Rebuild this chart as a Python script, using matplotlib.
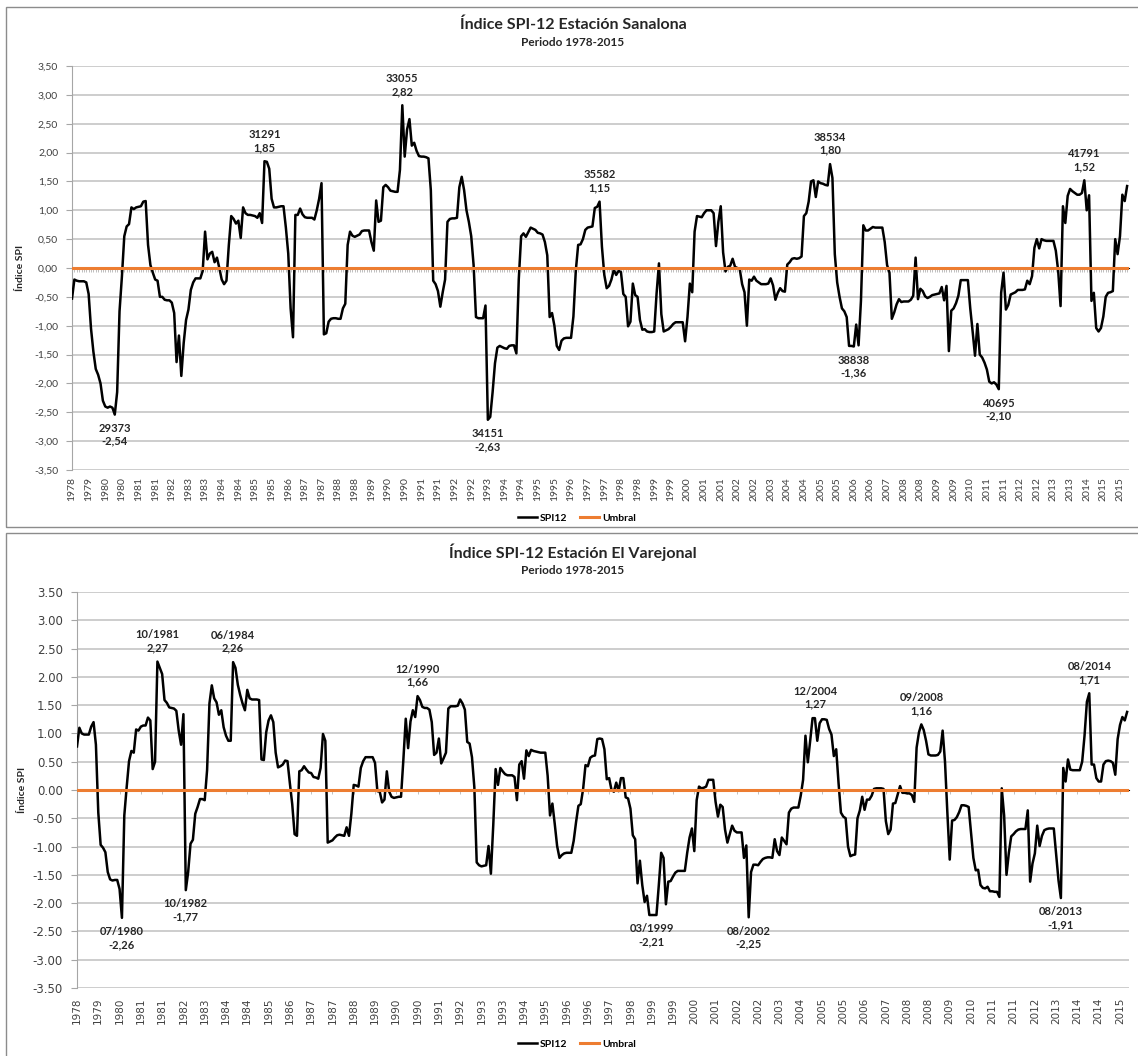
import numpy as np
import pandas as pd
import matplotlib
matplotlib.use('Agg')
import matplotlib.pyplot as plt
from matplotlib.patches import Rectangle

plt.rcParams['font.family'] = ['Lato', 'DejaVu Sans']

# SPI-12 mensual: primer valor dic 1978, luego una fila por año (1979-2015)
sanalona = [-0.53,
    -0.20, -0.22, -0.23, -0.23, -0.23, -0.25, -0.45, -1.05, -1.45, -1.75, -1.85, -2.00,
    -2.30, -2.40, -2.42, -2.40, -2.42, -2.54, -2.15, -0.75, -0.15, 0.55, 0.72, 0.76,
    1.05, 1.02, 1.05, 1.06, 1.07, 1.15, 1.16, 0.40, 0.05, -0.08, -0.20, -0.22,
    -0.50, -0.50, -0.55, -0.56, -0.56, -0.60, -0.78, -1.63, -1.17, -1.87, -1.30, -0.90,
    -0.72, -0.38, -0.25, -0.18, -0.18, -0.18, -0.05, 0.63, 0.15, 0.25, 0.28, 0.10,
    0.18, 0.00, -0.20, -0.28, -0.22, 0.40, 0.90, 0.85, 0.77, 0.82, 0.52, 1.05,
    0.95, 0.92, 0.92, 0.91, 0.90, 0.87, 0.95, 0.78, 1.85, 1.84, 1.72, 1.20,
    1.05, 1.05, 1.06, 1.07, 1.07, 0.70, 0.25, -0.70, -1.20, 0.92, 0.92, 1.03,
    0.93, 0.88, 0.87, 0.87, 0.87, 0.84, 1.00, 1.20, 1.47, -1.15, -1.13, -0.93,
    -0.88, -0.87, -0.87, -0.88, -0.88, -0.70, -0.62, 0.40, 0.63, 0.56, 0.54, 0.56,
    0.58, 0.64, 0.65, 0.65, 0.65, 0.45, 0.30, 1.17, 0.80, 0.82, 1.40, 1.44,
    1.40, 1.34, 1.33, 1.32, 1.32, 1.70, 2.82, 1.93, 2.40, 2.58, 2.12, 2.17,
    2.03, 1.94, 1.93, 1.93, 1.92, 1.90, 1.35, -0.22, -0.28, -0.40, -0.67, -0.42,
    -0.20, 0.80, 0.85, 0.86, 0.86, 0.87, 1.40, 1.58, 1.35, 1.00, 0.80, 0.55,
    0.05, -0.85, -0.87, -0.87, -0.87, -0.65, -2.63, -2.58, -2.15, -1.65, -1.38, -1.35,
    -1.37, -1.39, -1.40, -1.35, -1.34, -1.34, -1.48, -0.20, 0.55, 0.60, 0.54, 0.62,
    0.70, 0.68, 0.66, 0.61, 0.60, 0.58, 0.45, 0.22, -0.85, -0.78, -1.00, -1.35,
    -1.42, -1.26, -1.22, -1.21, -1.21, -1.21, -0.84, -0.05, 0.40, 0.41, 0.50, 0.66,
    0.70, 0.71, 0.72, 1.04, 1.06, 1.15, 0.37, -0.12, -0.35, -0.31, -0.20, -0.03,
    -0.12, -0.05, -0.07, -0.45, -0.50, -1.01, -0.93, -0.27, -0.47, -0.50, -0.90, -1.07,
    -1.06, -1.10, -1.11, -1.11, -1.10, -0.44, 0.08, -0.80, -1.10, -1.08, -1.06, -1.02,
    -0.97, -0.94, -0.94, -0.94, -0.94, -1.27, -0.85, -0.27, -0.42, 0.63, 0.90, 0.89,
    0.88, 0.95, 1.00, 1.00, 1.00, 0.95, 0.38, 0.80, 1.07, 0.27, -0.06, 0.02,
    0.04, 0.16, 0.02, 0.00, -0.02, -0.28, -0.42, -1.00, -0.20, -0.22, -0.15, -0.22,
    -0.25, -0.28, -0.28, -0.28, -0.27, -0.18, -0.30, -0.55, -0.43, -0.35, -0.40, -0.41,
    0.06, 0.10, 0.16, 0.17, 0.16, 0.17, 0.20, 0.90, 0.95, 1.15, 1.50, 1.52,
    1.23, 1.50, 1.47, 1.46, 1.44, 1.43, 1.80, 1.56, 0.24, -0.25, -0.50, -0.70,
    -0.75, -0.85, -1.35, -1.35, -1.36, -0.98, -1.34, -0.57, 0.74, 0.65, 0.65, 0.68,
    0.71, 0.70, 0.70, 0.70, 0.70, 0.45, 0.05, -0.08, -0.88, -0.77, -0.63, -0.54,
    -0.59, -0.58, -0.58, -0.58, -0.55, -0.48, 0.18, -0.54, -0.36, -0.40, -0.49, -0.52,
    -0.50, -0.47, -0.46, -0.45, -0.44, -0.33, -0.56, -0.31, -1.44, -0.74, -0.70, -0.61,
    -0.48, -0.21, -0.21, -0.21, -0.21, -0.70, -1.10, -1.52, -0.97, -1.50, -1.55, -1.64,
    -1.76, -1.97, -2.00, -1.98, -2.02, -2.10, -0.43, -0.08, -0.72, -0.64, -0.46, -0.44,
    -0.42, -0.38, -0.38, -0.38, -0.37, -0.22, -0.28, -0.14, 0.35, 0.50, 0.34, 0.50,
    0.48, 0.47, 0.47, 0.47, 0.47, 0.30, -0.05, -0.66, 1.07, 0.78, 1.25, 1.37,
    1.33, 1.30, 1.27, 1.27, 1.30, 1.52, 1.00, 1.26, -0.57, -0.43, -1.04, -1.10,
    -1.04, -0.84, -0.50, -0.43, -0.42, -0.40, 0.50, 0.24, 0.55, 1.27, 1.16, 1.42]

varejonal = [0.77,
    1.10, 1.00, 0.98, 0.98, 0.98, 1.12, 1.20, 0.80, -0.40, -0.97, -1.02, -1.10,
    -1.45, -1.58, -1.60, -1.59, -1.59, -1.75, -2.26, -0.45, 0.05, 0.51, 0.69, 0.66,
    1.07, 1.05, 1.12, 1.14, 1.14, 1.28, 1.23, 0.37, 0.50, 2.27, 2.16, 2.05,
    1.59, 1.54, 1.46, 1.45, 1.44, 1.40, 1.05, 0.80, 1.34, -1.77, -1.45, -0.95,
    -0.88, -0.42, -0.30, -0.16, -0.16, -0.18, 0.35, 1.53, 1.85, 1.62, 1.55, 1.33,
    1.41, 1.11, 0.96, 0.87, 0.87, 2.26, 2.16, 1.86, 1.68, 1.53, 1.41, 1.77,
    1.62, 1.60, 1.60, 1.60, 1.59, 0.54, 0.53, 1.02, 1.23, 1.32, 1.20, 0.66,
    0.40, 0.42, 0.45, 0.52, 0.51, 0.12, -0.25, -0.78, -0.81, 0.33, 0.35, 0.42,
    0.36, 0.31, 0.30, 0.23, 0.22, 0.20, 0.39, 0.99, 0.87, -0.93, -0.91, -0.89,
    -0.84, -0.80, -0.79, -0.80, -0.81, -0.66, -0.81, -0.42, 0.09, 0.08, 0.06, 0.39,
    0.51, 0.58, 0.58, 0.58, 0.58, 0.48, -0.02, -0.03, -0.22, -0.17, 0.33, -0.03,
    -0.12, -0.14, -0.13, -0.12, -0.12, 0.54, 1.26, 0.74, 1.21, 1.41, 1.29, 1.66,
    1.59, 1.47, 1.45, 1.45, 1.42, 1.20, 0.62, 0.66, 0.91, 0.47, 0.56, 0.66,
    1.44, 1.48, 1.48, 1.48, 1.49, 1.60, 1.53, 1.42, 0.85, 0.82, 0.58, 0.05,
    -1.28, -1.33, -1.35, -1.34, -1.33, -0.99, -1.48, -0.62, 0.37, 0.09, 0.39, 0.33,
    0.28, 0.26, 0.26, 0.26, 0.23, -0.18, 0.45, 0.51, 0.20, 0.70, 0.60, 0.71,
    0.69, 0.68, 0.67, 0.66, 0.66, 0.66, 0.25, -0.45, -0.24, -0.60, -0.99, -1.20,
    -1.15, -1.12, -1.11, -1.11, -1.11, -0.90, -0.57, -0.28, -0.25, 0.02, 0.44, 0.42,
    0.57, 0.60, 0.61, 0.90, 0.91, 0.90, 0.72, 0.19, 0.21, 0.00, -0.03, 0.13,
    -0.02, 0.21, 0.21, -0.13, -0.15, -0.33, -0.80, -0.87, -1.65, -1.25, -1.68, -1.98,
    -1.87, -2.21, -2.21, -2.21, -2.21, -1.68, -1.11, -1.20, -2.02, -1.62, -1.61, -1.53,
    -1.46, -1.43, -1.43, -1.43, -1.43, -1.11, -0.84, -0.68, -1.08, -0.18, 0.06, 0.03,
    0.04, 0.06, 0.18, 0.18, 0.18, -0.21, -0.47, -0.26, -0.30, -0.70, -0.93, -0.78,
    -0.63, -0.72, -0.75, -0.75, -0.75, -1.20, -0.98, -2.25, -1.45, -1.32, -1.32, -1.33,
    -1.27, -1.22, -1.20, -1.19, -1.19, -1.20, -0.87, -1.08, -1.15, -0.84, -0.90, -0.96,
    -0.40, -0.33, -0.31, -0.31, -0.31, -0.10, 0.18, 0.96, 0.49, 0.87, 1.27, 1.27,
    0.87, 1.18, 1.25, 1.25, 1.24, 1.08, 0.98, 0.60, 0.72, 0.12, -0.40, -0.47,
    -0.50, -1.00, -1.17, -1.15, -1.14, -0.50, -0.36, -0.12, -0.35, -0.17, -0.17, -0.10,
    0.02, 0.03, 0.03, 0.03, 0.02, -0.55, -0.78, -0.70, -0.24, -0.23, -0.08, 0.07,
    -0.05, -0.05, -0.06, -0.06, -0.09, -0.21, 0.75, 1.02, 1.16, 1.06, 0.87, 0.63,
    0.61, 0.61, 0.61, 0.62, 0.68, 1.05, 0.50, -0.40, -1.23, -0.54, -0.53, -0.48,
    -0.39, -0.27, -0.27, -0.28, -0.30, -0.75, -1.20, -1.42, -1.41, -1.68, -1.73, -1.74,
    -1.71, -1.79, -1.79, -1.80, -1.80, -1.89, 0.03, -0.45, -1.50, -1.11, -0.82, -0.78,
    -0.73, -0.70, -0.69, -0.69, -0.69, -0.36, -1.62, -1.30, -1.12, -0.63, -0.99, -0.81,
    -0.71, -0.69, -0.68, -0.68, -0.68, -1.15, -1.60, -1.91, 0.39, 0.15, 0.54, 0.36,
    0.35, 0.35, 0.35, 0.35, 0.50, 0.96, 1.56, 1.71, 0.45, 0.45, 0.21, 0.15,
    0.15, 0.45, 0.51, 0.52, 0.51, 0.48, 0.27, 0.90, 1.15, 1.29, 1.23, 1.38]

fechas = pd.date_range('1978-12-01', periods=len(sanalona), freq='MS')

# meses con etiqueta de dato
picos_sanalona = ['1980-06', '1985-09', '1990-07', '1993-07', '1997-06',
                  '2005-07', '2006-05', '2011-06', '2014-06']
picos_varejonal = ['1980-07', '1981-10', '1982-10', '1984-06', '1990-12', '1999-03',
                   '2002-08', '2004-12', '2008-09', '2013-08', '2014-08']

umbral = 0.0
titulo_sanalona = 'Índice SPI-12 Estación Sanalona'
titulo_varejonal = 'Índice SPI-12 Estación El Varejonal'
subtitulo = 'Periodo 1978-2015'

W, H = 1138, 1056
fig = plt.figure(figsize=(W / 100, H / 100), dpi=100)


def caja(l, t, r, b):
    return [l / W, 1 - b / H, (r - l) / W, (b - t) / H]


# marcos de los dos gráficos
fig.add_artist(Rectangle((6 / W, 1 - 527 / H), 1.0, (527 - 7) / H, transform=fig.transFigure,
                         fill=False, ec='#8c8c8c', lw=1))
fig.add_artist(Rectangle((6 / W, -0.01), 1.0, (1056 - 533) / H + 0.01, transform=fig.transFigure,
                         fill=False, ec='#8c8c8c', lw=1))


def grafico(ax, valores, picos, paso_etq, paso_tick, fmt_y, fuente_ejes, tam_y, tam_x, etiqueta_fecha):
    x = np.arange(len(valores))
    ax.plot(x, valores, color='black', lw=1.8, label='SPI12', zorder=3)
    ax.axhline(umbral, color='#ED7D31', lw=2.2, label='Umbral', zorder=4)
    ax.set_xlim(0, len(valores) - 0.2)
    ax.set_ylim(-3.5, 3.5)
    yt = np.round(np.arange(-3.5, 3.51, 0.5), 2) + 0.0
    ax.set_yticks(yt)
    ax.set_yticklabels([fmt_y(v) for v in yt], fontsize=tam_y, color='#404040', family=fuente_ejes)
    ax.yaxis.grid(True, color='#C0C0C0', lw=1.1)
    ax.set_axisbelow(True)
    for s in ['top', 'right', 'bottom']:
        ax.spines[s].set_visible(False)
    ax.spines['left'].set_color('#A6A6A6')
    ax.tick_params(axis='y', length=4, color='#A6A6A6', pad=6)

    # etiquetas de año en la parte baja
    ax.set_xticks(x[::paso_etq])
    ax.set_xticklabels([str(f.year) for f in fechas[::paso_etq]], rotation=90,
                       fontsize=tam_x, color='#404040', family=fuente_ejes)
    ax.tick_params(axis='x', length=0, pad=5)

    # eje de categorías cruzando en el umbral (solo marcas hacia abajo, sin texto)
    sec = ax.secondary_xaxis((umbral + 3.5) / 7.0)
    sec.set_xticks(x[::paso_tick])
    sec.xaxis.set_major_formatter(plt.NullFormatter())
    sec.tick_params(length=3, width=0.6, color='#B4B4B4', direction='in')
    sec.spines['bottom'].set_color('#B4B4B4')

    for p in picos:
        i = fechas.get_loc(pd.Timestamp(p + '-01'))
        v = valores[i]
        txt = etiqueta_fecha(fechas[i]) + '\n' + f'{v:.2f}'.replace('.', ',')
        arriba = v > umbral
        ax.annotate(txt, (i, v), xytext=(0, 6 if arriba else -6), textcoords='offset points',
                    ha='center', va='bottom' if arriba else 'top', fontsize=8,
                    fontweight='bold', color='#262626', linespacing=1.2)

    ax.set_ylabel('Índice SPI', fontsize=7.5, fontweight='bold', color='#262626')


ax1 = fig.add_axes(caja(72, 66, 1129, 470))
grafico(ax1, sanalona, picos_sanalona, 7, 1,
        lambda v: f'{v:.2f}'.replace('.', ','), 'Lato', 7.5, 7.5,
        lambda f: str((f - pd.Timestamp('1899-12-30')).days))
ax1.yaxis.set_label_coords((25 - 72) / 1057, 0.5)

ax2 = fig.add_axes(caja(77, 592, 1129, 988))
grafico(ax2, varejonal, picos_varejonal, 9, 9,
        lambda v: f'{v:.2f}', 'DejaVu Sans', 8.5, 7.5,
        lambda f: f.strftime('%m/%Y'))
ax2.tick_params(axis='x', pad=7)
ax2.yaxis.set_label_coords((27 - 77) / 1052, 0.5)

# títulos
fig.text(573 / W, 1 - 25 / H, titulo_sanalona, ha='center', va='center', fontsize=11.5,
         fontweight='bold', color='#262626')
fig.text(573 / W, 1 - 43 / H, subtitulo, ha='center', va='center', fontsize=8.5,
         fontweight='bold', color='#262626')
fig.text(573 / W, 1 - 552 / H, titulo_varejonal, ha='center', va='center', fontsize=11.5,
         fontweight='bold', color='#262626')
fig.text(573 / W, 1 - 570 / H, subtitulo, ha='center', va='center', fontsize=8.5,
         fontweight='bold', color='#262626')

# leyendas
for ax, y in [(ax1, 518), (ax2, 1044)]:
    h, l = ax.get_legend_handles_labels()
    fig.legend(h, l, loc='center', bbox_to_anchor=(577 / W, 1 - y / H), ncol=2, frameon=False,
               prop={'size': 7.5, 'weight': 'bold'}, handlelength=1.8, columnspacing=1.2,
               handletextpad=0.3, borderpad=0)

fig.savefig('out.png', dpi=100)
